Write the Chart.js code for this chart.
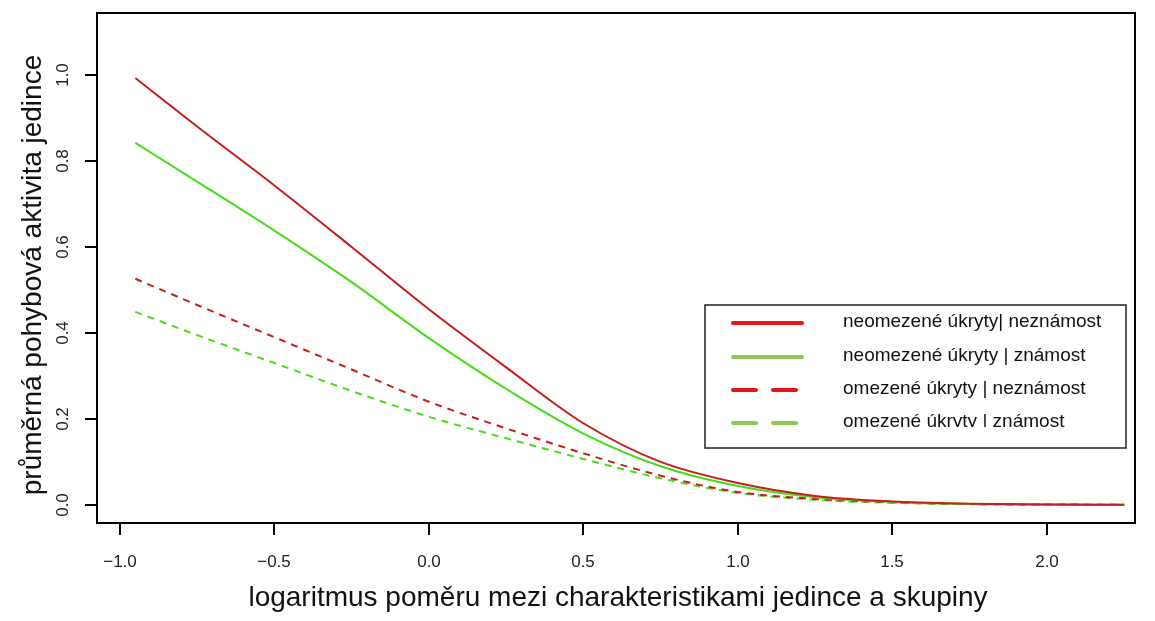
<!DOCTYPE html>
<html>
<head>
<meta charset="utf-8">
<script src="https://cdn.jsdelivr.net/npm/chart.js@4.4.1/dist/chart.umd.min.js"></script>
<style>
    html, body { margin: 0; padding: 0; background: #fff; overflow: hidden; }
    #activityChart { display: block; }
</style>
</head>
<body>
<canvas id="activityChart" width="1155" height="621"></canvas>
<script>
// Values
const xValues = [-0.95, -0.75, -0.5, -0.25, 0.0, 0.25, 0.5, 0.75, 1.0, 1.25, 1.5, 1.75, 2.0, 2.25];
const redSolid = [0.993, 0.88, 0.743, 0.60, 0.455, 0.32, 0.19, 0.10, 0.051, 0.021, 0.008, 0.003, 0.001, 0.0005];
const greenSolid = [0.842, 0.752, 0.638, 0.518, 0.388, 0.27, 0.166, 0.09, 0.044, 0.018, 0.007, 0.002, 0.001, 0.0005];
const redDashed = [0.526, 0.465, 0.39, 0.315, 0.24, 0.178, 0.12, 0.068, 0.03, 0.014, 0.006, 0.002, 0.001, 0.0005];
const greenDashed = [0.449, 0.395, 0.33, 0.265, 0.205, 0.155, 0.107, 0.062, 0.028, 0.012, 0.005, 0.002, 0.001, 0.0005];

const xTicks = [-1.0, -0.5, 0.0, 0.5, 1.0, 1.5, 2.0];
const yTicks = [0.0, 0.2, 0.4, 0.6, 0.8, 1.0];
const legendLabels = [
    'neomezené úkryty| neznámost',
    'neomezené úkryty | známost',
    'omezené úkryty | neznámost',
    'omezené úkryty | známost'
];
const xTitle = 'logaritmus poměru mezi charakteristikami jedince a skupiny';
const yTitle = 'průměrná pohybová aktivita jedince';

const RED = '#C81D1D';
const GREEN = '#45DD18';
const LEGEND_RED = '#E8141A';
const LEGEND_GREEN = '#8CC852';
const FONT = 'Arial, "Liberation Sans", sans-serif';

function toPoints(values) {
    return xValues.map((x, i) => ({ x: x, y: values[i] }));
}

function makeDataset(label, values, color, dashed) {
    return {
        label: label,
        data: toPoints(values),
        borderColor: color,
        borderWidth: 2,
        borderDash: dashed ? [7, 6] : [],
        pointRadius: 0,
        cubicInterpolationMode: 'monotone',
        fill: false
    };
}

/**
 * Draw the R-style frame, ticks, titles and legend box
 */
const basePlotFrame = {
    id: 'basePlotFrame',
    afterDraw(chart) {
        const ctx = chart.ctx;
        const area = chart.chartArea;
        const xs = chart.scales.x;
        const ys = chart.scales.y;
        ctx.save();

        // box
        ctx.strokeStyle = '#000';
        ctx.lineWidth = 2;
        ctx.strokeRect(area.left, area.top, area.right - area.left, area.bottom - area.top);

        // x ticks + labels
        ctx.fillStyle = '#222';
        ctx.font = '17px ' + FONT;
        ctx.textAlign = 'center';
        ctx.textBaseline = 'middle';
        xTicks.forEach(t => {
            const px = Math.round(xs.getPixelForValue(t));
            ctx.beginPath();
            ctx.moveTo(px, area.bottom);
            ctx.lineTo(px, area.bottom + 12);
            ctx.stroke();
            const txt = t.toFixed(1).replace('-', '\u2212');
            ctx.fillText(txt, px, area.bottom + 39);
        });

        // y ticks + rotated labels
        yTicks.forEach(t => {
            const py = Math.round(ys.getPixelForValue(t));
            ctx.beginPath();
            ctx.moveTo(area.left, py);
            ctx.lineTo(area.left - 12, py);
            ctx.stroke();
            ctx.save();
            ctx.translate(area.left - 34, py);
            ctx.rotate(-Math.PI / 2);
            ctx.fillText(t.toFixed(1), 0, 0);
            ctx.restore();
        });

        // axis titles
        ctx.fillStyle = '#111';
        ctx.font = '28px ' + FONT;
        ctx.fillText(xTitle, (area.left + area.right) / 2 + 2, 598);
        ctx.save();
        ctx.translate(33, (area.top + area.bottom) / 2 + 7);
        ctx.rotate(-Math.PI / 2);
        ctx.fillText(yTitle, 0, 0);
        ctx.restore();

        // legend
        const lx = 705, ly = 305, lw = 421, lh = 143;
        ctx.fillStyle = '#fff';
        ctx.fillRect(lx, ly, lw, lh);
        ctx.lineWidth = 1.5;
        ctx.strokeStyle = '#222';
        ctx.strokeRect(lx, ly, lw, lh);

        const rowY = [323, 357, 390, 423];
        const legendColors = [LEGEND_RED, LEGEND_GREEN, LEGEND_RED, LEGEND_GREEN];
        ctx.lineCap = 'round';
        ctx.lineWidth = 4;
        legendLabels.forEach((lab, i) => {
            ctx.strokeStyle = legendColors[i];
            ctx.setLineDash(i < 2 ? [] : [23, 17]);
            ctx.beginPath();
            ctx.moveTo(733, rowY[i]);
            ctx.lineTo(802, rowY[i]);
            ctx.stroke();
        });
        ctx.setLineDash([]);

        ctx.font = '19px ' + FONT;
        ctx.fillStyle = '#111';
        ctx.textAlign = 'left';
        legendLabels.forEach((lab, i) => {
            ctx.save();
            if (i === 3) {
                // last entry is cut at the bottom in the original
                ctx.beginPath();
                ctx.rect(lx, ly, lw, 122);
                ctx.clip();
            }
            ctx.fillText(lab, 843, rowY[i] - 1);
            ctx.restore();
        });

        ctx.restore();
    }
};

const chart = new Chart(document.getElementById('activityChart'), {
    type: 'line',
    data: {
        datasets: [
            makeDataset(legendLabels[0], redSolid, RED, false),
            makeDataset(legendLabels[1], greenSolid, GREEN, false),
            makeDataset(legendLabels[2], redDashed, RED, true),
            makeDataset(legendLabels[3], greenDashed, GREEN, true)
        ]
    },
    options: {
        responsive: false,
        animation: false,
        devicePixelRatio: 1,
        layout: {
            padding: { left: 97, right: 20, top: 13, bottom: 98 }
        },
        scales: {
            x: {
                type: 'linear',
                min: -1.074,
                max: 2.285,
                display: false
            },
            y: {
                min: -0.042,
                max: 1.144,
                display: false
            }
        },
        plugins: {
            legend: { display: false },
            tooltip: { enabled: false }
        }
    },
    plugins: [basePlotFrame]
});
</script>
</body>
</html>
